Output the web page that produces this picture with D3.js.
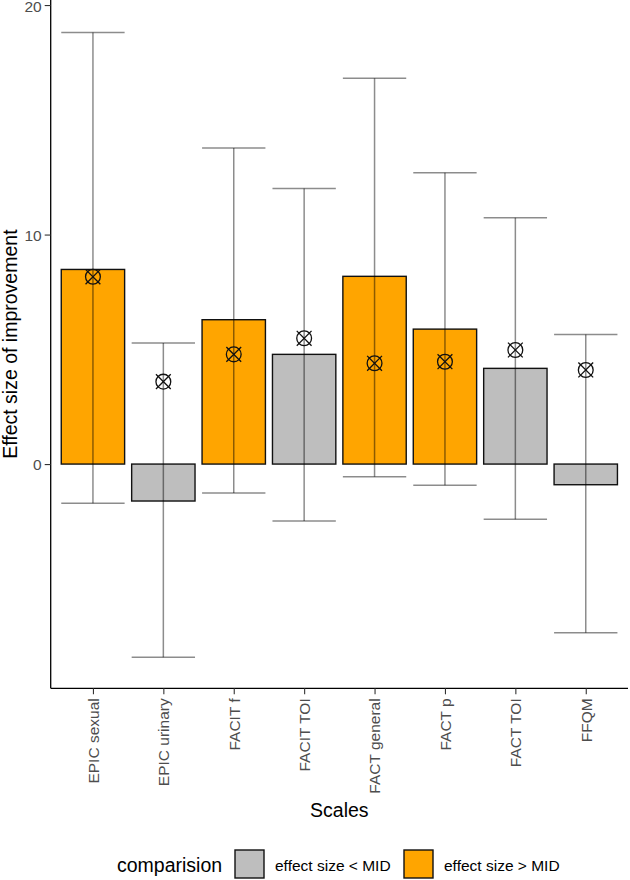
<!DOCTYPE html>
<html>
<head>
<meta charset="utf-8">
<script src="https://cdn.jsdelivr.net/npm/d3@7"></script>
<style>
  body { margin: 0; background: #fff; }
  svg { display: block; font-family: "Liberation Sans", Arial, sans-serif; }
</style>
</head>
<body>
<svg id="chart" width="630" height="880"></svg>
<script>
// ---- data ----
const categories = ["EPIC sexual", "EPIC urinary", "FACIT f", "FACIT TOI", "FACT general", "FACT p", "FACT TOI", "FFQM"];
const barValues = [8.48, -1.61, 6.29, 4.78, 8.18, 5.88, 4.17, -0.90];
const pointValues = [8.16, 3.59, 4.78, 5.48, 4.39, 4.46, 4.97, 4.10];
const ciLower = [-1.71, -8.42, -1.26, -2.48, -0.55, -0.92, -2.40, -7.35];
const ciUpper = [18.80, 5.27, 13.77, 12.01, 16.81, 12.69, 10.73, 5.65];
const comparison = ["gt", "lt", "gt", "lt", "gt", "gt", "lt", "lt"];
const legendKeys = ["lt", "gt"];
const legendLabels = ["effect size < MID", "effect size > MID"];
const yTicks = [0, 10, 20];
const yDomain = [-9.77, 20.22];

// ---- layout ----
const svg = d3.select("#chart");
const plot = { left: 50.7, right: 628, top: 0, bottom: 688.3 };
const colors = { lt: "#BEBEBE", gt: "#FFA500" };

const y = d3.scaleLinear().domain(yDomain).range([plot.bottom, plot.top]);
const x = d3.scalePoint().domain(categories).range([plot.left, plot.right]).padding(0.6);
const bw = x.step() * 0.9;

const data = categories.map((c, i) => ({
  c, v: barValues[i], p: pointValues[i], lo: ciLower[i], hi: ciUpper[i], cmp: comparison[i]
}));

// bars
svg.append("g").selectAll("rect").data(data).join("rect")
  .attr("x", d => x(d.c) - bw / 2)
  .attr("y", d => y(Math.max(0, d.v)))
  .attr("width", bw)
  .attr("height", d => Math.abs(y(d.v) - y(0)))
  .attr("fill", d => colors[d.cmp])
  .attr("stroke", "#111")
  .attr("stroke-width", 1.4);

// error bars
const eb = svg.append("g").attr("stroke", "#000").attr("stroke-opacity", 0.45).attr("stroke-width", 1.5).attr("fill", "none");
data.forEach(d => {
  const cx = x(d.c);
  eb.append("line").attr("x1", cx).attr("x2", cx).attr("y1", y(d.lo)).attr("y2", y(d.hi));
  eb.append("line").attr("x1", cx - bw / 2).attr("x2", cx + bw / 2).attr("y1", y(d.lo)).attr("y2", y(d.lo));
  eb.append("line").attr("x1", cx - bw / 2).attr("x2", cx + bw / 2).attr("y1", y(d.hi)).attr("y2", y(d.hi));
});

// points (circle with X)
const r = 7.4;
const pts = svg.append("g").attr("stroke", "#111").attr("stroke-width", 1.3).attr("fill", "none");
data.forEach(d => {
  const cx = x(d.c), cy = y(d.p);
  pts.append("circle").attr("cx", cx).attr("cy", cy).attr("r", r);
  pts.append("line").attr("x1", cx - r).attr("y1", cy - r).attr("x2", cx + r).attr("y2", cy + r);
  pts.append("line").attr("x1", cx - r).attr("y1", cy + r).attr("x2", cx + r).attr("y2", cy - r);
});

// y axis
const yAxis = svg.append("g").attr("transform", `translate(${plot.left},0)`)
  .call(d3.axisLeft(y).tickValues(yTicks).tickSize(6).tickPadding(3).tickSizeOuter(0));
yAxis.select(".domain").attr("stroke", "#000").attr("stroke-width", 1.3)
  .attr("d", `M0,${plot.top}V${plot.bottom}`);
yAxis.selectAll(".tick line").attr("stroke", "#333").attr("stroke-width", 1.1);
yAxis.selectAll(".tick text").attr("fill", "#4d4d4d").attr("font-size", 15.5)
  .attr("font-family", "Liberation Sans, Arial, sans-serif")
  .attr("dy", d => d === d3.max(yTicks) ? "0.44em" : "0.36em");

// x axis
const xAxis = svg.append("g").attr("transform", `translate(0,${plot.bottom})`)
  .call(d3.axisBottom(x).tickSize(6).tickSizeOuter(0));
xAxis.select(".domain").attr("stroke", "#000").attr("stroke-width", 1.3)
  .attr("d", `M${plot.left},0H${plot.right}`);
xAxis.selectAll(".tick line").attr("stroke", "#333").attr("stroke-width", 1.1);
xAxis.selectAll(".tick text")
  .attr("fill", "#4d4d4d").attr("font-size", 15.5).attr("font-family", "Liberation Sans, Arial, sans-serif")
  .attr("text-anchor", "end")
  .attr("transform", "rotate(-90)")
  .attr("x", -10).attr("y", 0).attr("dy", "0.35em");

// axis titles
svg.append("text")
  .attr("transform", `translate(17,${(plot.top + plot.bottom) / 2}) rotate(-90)`)
  .attr("text-anchor", "middle").attr("font-size", 19.5).attr("fill", "#000")
  .text("Effect size of improvement");
svg.append("text")
  .attr("x", (plot.left + plot.right) / 2).attr("y", 817)
  .attr("text-anchor", "middle").attr("font-size", 19.5).attr("fill", "#000")
  .text("Scales");

// legend
const lg = svg.append("g");
lg.append("text").attr("x", 117).attr("y", 872).attr("font-size", 19.5).attr("fill", "#000").text("comparision");
const keyX = [235, 404];
legendKeys.forEach((k, i) => {
  lg.append("rect").attr("x", keyX[i]).attr("y", 850).attr("width", 29).attr("height", 28)
    .attr("fill", colors[k]).attr("stroke", "#111").attr("stroke-width", 1.4);
  lg.append("text").attr("x", keyX[i] + 40).attr("y", 870.5).attr("font-size", 15.5).attr("fill", "#000")
    .text(legendLabels[i]);
});
</script>
</body>
</html>
